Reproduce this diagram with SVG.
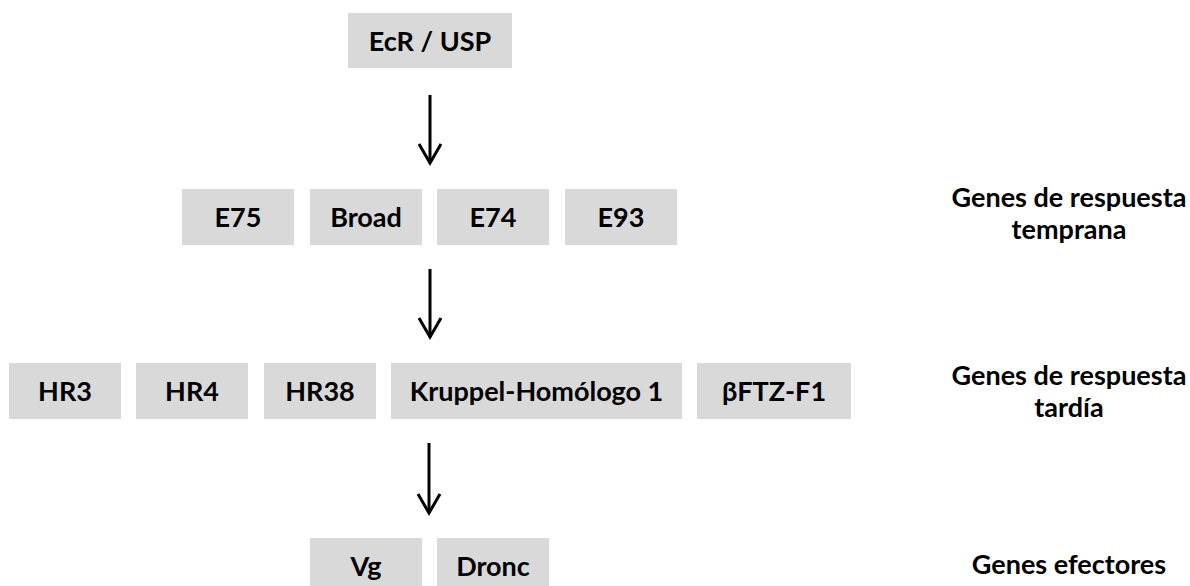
<svg xmlns="http://www.w3.org/2000/svg" width="1190" height="586" viewBox="0 0 1190 586">
  <style>
    .box { fill: #d9d9d9; }
    .t { font-family: Lato, "Liberation Sans", sans-serif; font-weight: bold; font-size: 27px; fill: #000; text-anchor: middle; }
    .arrow { stroke: #000; stroke-width: 3; fill: none; marker-end: url(#head); }
  </style>
  <defs>
    <marker id="head" markerUnits="userSpaceOnUse" markerWidth="30" markerHeight="30" viewBox="-25 -15 30 30" refX="0" refY="0" orient="auto">
      <path d="M -19 -11 L 0 0 L -19 11" fill="none" stroke="#000" stroke-width="3" stroke-linejoin="miter"/>
    </marker>
  </defs>
  <rect width="1190" height="586" fill="#fff"/>

  <g id="ecr-usp"><rect class="box" x="348" y="13" width="164" height="55"/><text class="t" x="430" y="51">EcR / USP</text></g>

  <g id="e75"><rect class="box" x="182" y="189" width="112" height="56"/><text class="t" x="238" y="227">E75</text></g>
  <g id="broad"><rect class="box" x="310" y="189" width="112" height="56"/><text class="t" x="366" y="227">Broad</text></g>
  <g id="e74"><rect class="box" x="437" y="189" width="112" height="56"/><text class="t" x="493" y="227">E74</text></g>
  <g id="e93"><rect class="box" x="565" y="189" width="112" height="56"/><text class="t" x="621" y="227">E93</text></g>

  <g id="hr3"><rect class="box" x="9" y="363" width="112" height="56"/><text class="t" x="65" y="401">HR3</text></g>
  <g id="hr4"><rect class="box" x="136" y="363" width="112" height="56"/><text class="t" x="192" y="401">HR4</text></g>
  <g id="hr38"><rect class="box" x="264" y="363" width="112" height="56"/><text class="t" x="320" y="401">HR38</text></g>
  <g id="kruppel"><rect class="box" x="391" y="363" width="291" height="56"/><text class="t" x="536.5" y="401">Kruppel-Homólogo 1</text></g>
  <g id="bftz"><rect class="box" x="697" y="363" width="154" height="56"/><text class="t" x="774" y="401">βFTZ-F1</text></g>

  <g id="vg"><rect class="box" x="310" y="538" width="112" height="56"/><text class="t" x="366" y="576">Vg</text></g>
  <g id="dronc"><rect class="box" x="437" y="538" width="112" height="56"/><text class="t" x="493" y="576">Dronc</text></g>

  <g id="label-temprana"><text class="t" x="1069" y="207">Genes de respuesta</text><text class="t" x="1069" y="239">temprana</text></g>
  <g id="label-tardia"><text class="t" x="1069" y="385">Genes de respuesta</text><text class="t" x="1069" y="417">tardía</text></g>
  <g id="label-efectores"><text class="t" x="1069" y="574">Genes efectores</text></g>

  <g id="connectors">
    <line class="arrow" x1="430" y1="95" x2="430" y2="163"/>
    <line class="arrow" x1="430" y1="269" x2="430" y2="337"/>
    <line class="arrow" x1="429" y1="443" x2="429" y2="513"/>
  </g>
</svg>
